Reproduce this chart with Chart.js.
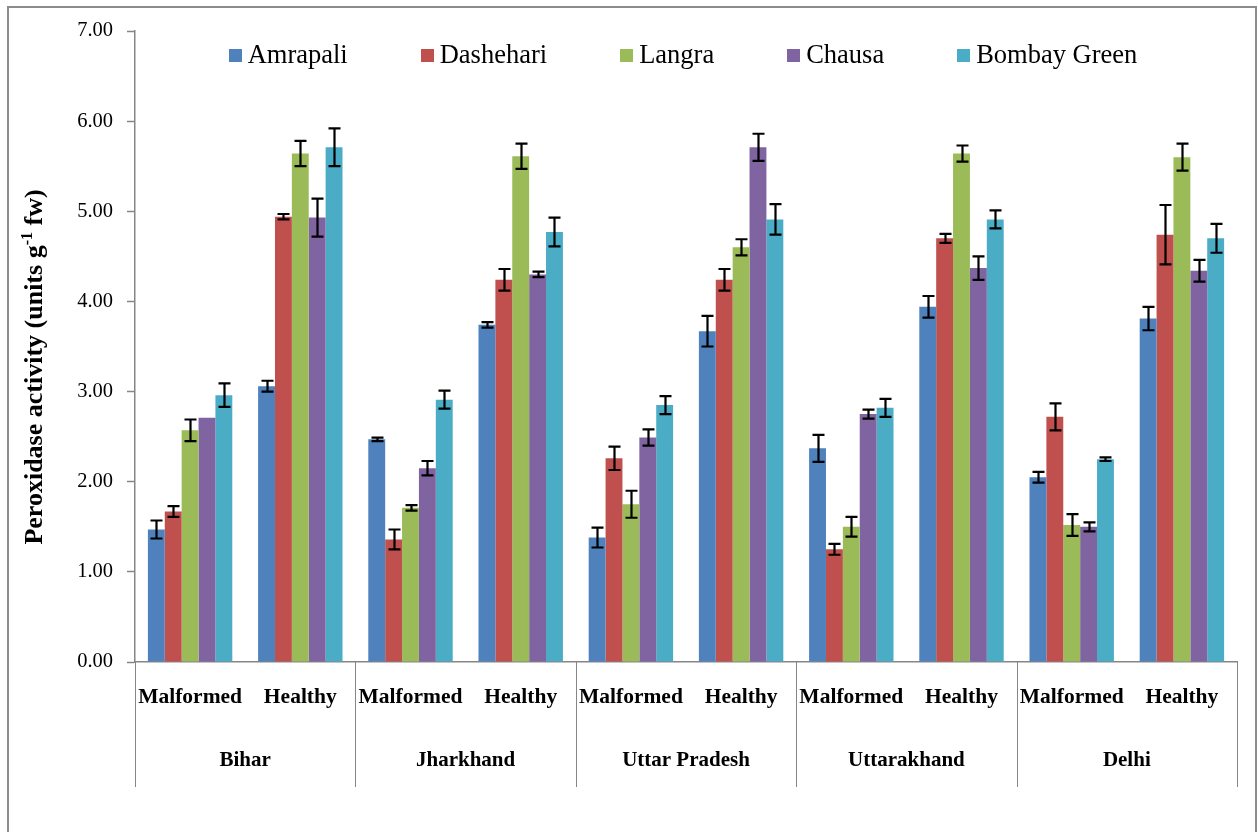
<!DOCTYPE html>
<html>
<head>
<meta charset="utf-8">
<script src="https://cdn.jsdelivr.net/npm/chart.js@4.4.1/dist/chart.umd.min.js"></script>
<style>
  html, body { margin: 0; padding: 0; background: #ffffff; }
  canvas { display: block; }
</style>
</head>
<body>
<canvas id="chart" width="1258" height="832"></canvas>
<script>
// Peroxidase activity of mango varieties, malformed vs healthy tissue, per state
const conditions = ['Malformed', 'Healthy', 'Malformed', 'Healthy', 'Malformed', 'Healthy', 'Malformed', 'Healthy', 'Malformed', 'Healthy'];
const states = ['Bihar', 'Jharkhand', 'Uttar Pradesh', 'Uttarakhand', 'Delhi'];
const yTicks = [0, 1, 2, 3, 4, 5, 6, 7];

const amrapali       = [1.47, 3.06, 2.47, 3.74, 1.38, 3.67, 2.37, 3.94, 2.05, 3.81];
const amrapaliErr    = [0.10, 0.06, 0.02, 0.03, 0.11, 0.17, 0.15, 0.12, 0.06, 0.13];
const dashehari      = [1.67, 4.94, 1.36, 4.24, 2.26, 4.24, 1.25, 4.70, 2.72, 4.74];
const dashehariErr   = [0.06, 0.03, 0.11, 0.12, 0.13, 0.12, 0.06, 0.05, 0.15, 0.33];
const langra         = [2.57, 5.64, 1.71, 5.61, 1.75, 4.60, 1.50, 5.64, 1.52, 5.60];
const langraErr      = [0.12, 0.14, 0.03, 0.14, 0.15, 0.09, 0.11, 0.09, 0.12, 0.15];
const chausa         = [2.71, 4.93, 2.15, 4.30, 2.49, 5.71, 2.75, 4.37, 1.50, 4.34];
const chausaErr      = [0.00, 0.21, 0.08, 0.03, 0.09, 0.15, 0.05, 0.13, 0.05, 0.12];
const bombayGreen    = [2.96, 5.71, 2.91, 4.77, 2.85, 4.91, 2.82, 4.91, 2.25, 4.70];
const bombayGreenErr = [0.13, 0.21, 0.10, 0.16, 0.10, 0.17, 0.10, 0.10, 0.02, 0.16];

const SERIF = '"Liberation Serif", "Times New Roman", serif';
const AXIS_GREY = '#868686';

function series(label, data, err, color) {
  return { label, data, err, backgroundColor: color, borderWidth: 0,
           categoryPercentage: 0.766, barPercentage: 1.0 };
}

// white page and outer frame
const frame = {
  id: 'frame',
  beforeDraw(chart) {
    const ctx = chart.ctx;
    ctx.save();
    ctx.fillStyle = '#ffffff';
    ctx.fillRect(0, 0, chart.width, chart.height);
    ctx.restore();
  },
  afterDraw(chart) {
    const ctx = chart.ctx;
    ctx.save();
    ctx.strokeStyle = '#8c8c8c';
    ctx.lineWidth = 2;
    ctx.strokeRect(8, 7, 1248, 840);
    ctx.restore();
  }
};

// standard-error whiskers on top of every bar
const errorBars = {
  id: 'errorBars',
  afterDatasetsDraw(chart) {
    const ctx = chart.ctx;
    const y = chart.scales.y;
    ctx.save();
    ctx.strokeStyle = '#000000';
    ctx.lineWidth = 2.2;
    chart.data.datasets.forEach((ds, di) => {
      const meta = chart.getDatasetMeta(di);
      meta.data.forEach((bar, i) => {
        const e = ds.err[i];
        if (!e) return;
        const v = ds.data[i];
        const yTop = y.getPixelForValue(v + e);
        const yBot = y.getPixelForValue(v - e);
        const x = Math.round(bar.x) + 0.5;
        const half = 6;
        ctx.beginPath();
        ctx.moveTo(x, yTop); ctx.lineTo(x, yBot);
        ctx.moveTo(x - half, yTop); ctx.lineTo(x + half, yTop);
        ctx.moveTo(x - half, yBot); ctx.lineTo(x + half, yBot);
        ctx.stroke();
      });
    });
    ctx.restore();
  }
};

// second category level: state names with separators
const stateGroups = {
  id: 'stateGroups',
  afterDraw(chart) {
    const ctx = chart.ctx;
    const xs = chart.scales.x;
    const top = xs.top;
    const bottom = top + 125;
    const edges = [xs.left];
    for (let g = 1; g < states.length; g++) {
      const i = g * 2;
      edges.push((xs.getPixelForValue(i - 1) + xs.getPixelForValue(i)) / 2);
    }
    edges.push(xs.right);
    ctx.save();
    ctx.strokeStyle = AXIS_GREY;
    ctx.lineWidth = 1;
    edges.forEach(ex => {
      const px = Math.round(ex) + 0.5;
      ctx.beginPath();
      ctx.moveTo(px, top);
      ctx.lineTo(px, bottom);
      ctx.stroke();
    });
    ctx.fillStyle = '#000000';
    ctx.font = 'bold 21px ' + SERIF;
    ctx.textAlign = 'center';
    ctx.textBaseline = 'middle';
    states.forEach((s, g) => {
      ctx.fillText(s, (edges[g] + edges[g + 1]) / 2, top + 99);
    });
    ctx.restore();
  }
};

// legend row placed inside the plot area
const topLegend = {
  id: 'topLegend',
  afterDraw(chart) {
    const ctx = chart.ctx;
    const area = chart.chartArea;
    const box = 13, gap = 6, spacing = 73;
    ctx.save();
    ctx.font = '26.5px ' + SERIF;
    const items = chart.data.datasets.map(ds => ({
      label: ds.label, color: ds.backgroundColor, w: ctx.measureText(ds.label).width
    }));
    const total = items.reduce((s, it) => s + box + gap + it.w, 0) + spacing * (items.length - 1);
    let x = (area.left + area.right) / 2 - total / 2 - 3;
    const cy = 55;
    ctx.textBaseline = 'middle';
    ctx.textAlign = 'left';
    items.forEach(it => {
      ctx.fillStyle = it.color;
      ctx.fillRect(Math.round(x), Math.round(cy - box / 2), box, box);
      ctx.fillStyle = '#000000';
      ctx.fillText(it.label, x + box + gap, cy + 1);
      x += box + gap + it.w + spacing;
    });
    ctx.restore();
  }
};

// rotated y-axis title with superscript exponent
const yTitle = {
  id: 'yTitle',
  afterDraw(chart) {
    const ctx = chart.ctx;
    const parts = [
      { t: 'Peroxidase activity (units g', size: 26, rise: 0 },
      { t: '-1', size: 16, rise: 10 },
      { t: ' fw)', size: 26, rise: 0 }
    ];
    ctx.save();
    let total = 0;
    parts.forEach(p => {
      ctx.font = 'bold ' + p.size + 'px ' + SERIF;
      p.w = ctx.measureText(p.t).width;
      total += p.w;
    });
    const cx = 33, cy = 367;
    ctx.translate(cx, cy);
    ctx.rotate(-Math.PI / 2);
    ctx.fillStyle = '#000000';
    ctx.textBaseline = 'alphabetic';
    ctx.textAlign = 'left';
    let x = -total / 2;
    parts.forEach(p => {
      ctx.font = 'bold ' + p.size + 'px ' + SERIF;
      ctx.fillText(p.t, x, 9 - p.rise);
      x += p.w;
    });
    ctx.restore();
  }
};

new Chart(document.getElementById('chart'), {
  type: 'bar',
  data: {
    labels: conditions,
    datasets: [
      series('Amrapali', amrapali, amrapaliErr, '#4F81BD'),
      series('Dashehari', dashehari, dashehariErr, '#C0504D'),
      series('Langra', langra, langraErr, '#9BBB59'),
      series('Chausa', chausa, chausaErr, '#8064A2'),
      series('Bombay Green', bombayGreen, bombayGreenErr, '#4BACC6')
    ]
  },
  options: {
    responsive: false,
    devicePixelRatio: 1,
    animation: false,
    layout: { padding: { left: 0, top: 31, right: 21, bottom: 0 } },
    plugins: {
      legend: { display: false },
      tooltip: { enabled: false }
    },
    scales: {
      x: {
        grid: { display: false, drawTicks: false },
        border: { display: true, color: AXIS_GREY, width: 1.5 },
        ticks: {
          color: '#000000',
          font: { family: SERIF, size: 21.5, weight: 'bold' },
          padding: 23,
          maxRotation: 0,
          autoSkip: false
        },
        afterFit(scale) { scale.height = 170; }
      },
      y: {
        min: 0,
        max: 7,
        afterBuildTicks(scale) { scale.ticks = yTicks.map(v => ({ value: v })); },
        grid: { drawOnChartArea: false, drawTicks: true, tickLength: 8, color: AXIS_GREY, tickWidth: 1.5 },
        border: { display: true, color: AXIS_GREY, width: 1.5 },
        ticks: {
          color: '#000000',
          font: { family: SERIF, size: 20.5 },
          padding: 14,
          callback: v => Number(v).toFixed(2)
        },
        afterFit(scale) { scale.width = 135; }
      }
    }
  },
  plugins: [frame, errorBars, stateGroups, topLegend, yTitle]
});
</script>
</body>
</html>
